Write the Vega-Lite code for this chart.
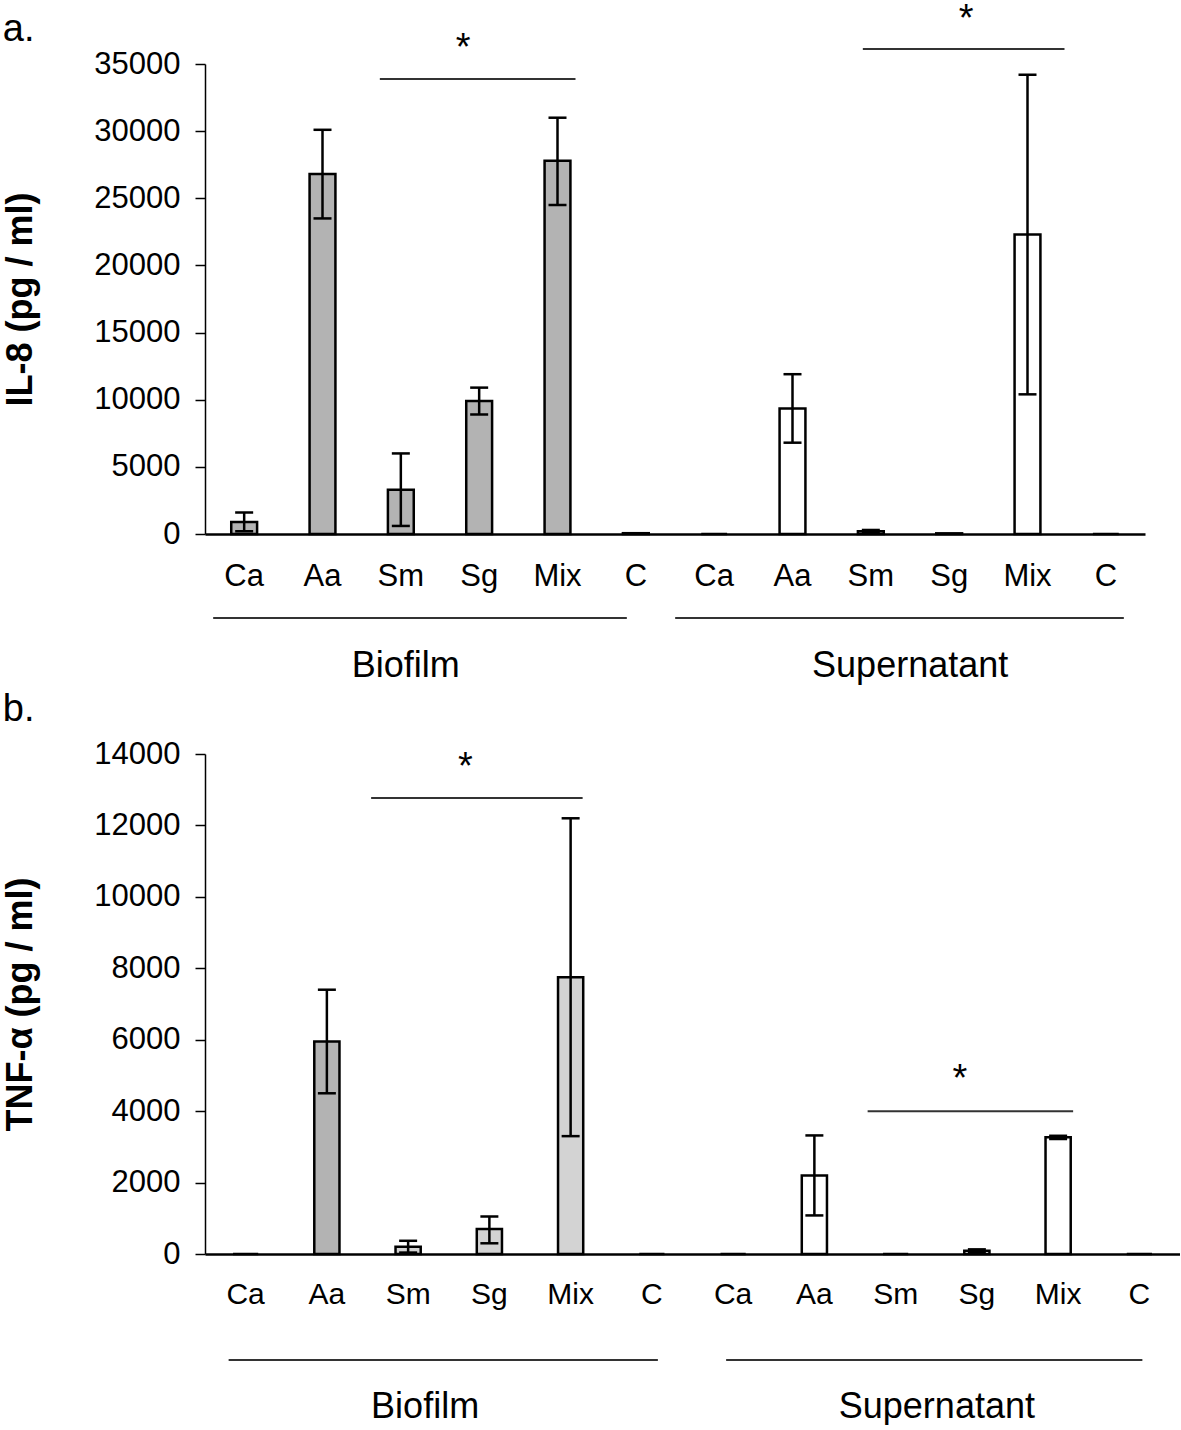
{
  "$schema": "https://vega.github.io/schema/vega-lite/v6.json",
  "padding": {"left": 2, "top": 0, "right": 0, "bottom": 0},
  "background": "white",
  "spacing": 6,
  "config": {
    "view": {"stroke": null},
    "font": "Liberation Sans",
    "axis": {"grid": false, "labelColor": "black", "titleColor": "black", "domainColor": "black", "tickColor": "black", "labelFont": "Liberation Sans", "titleFont": "Liberation Sans"},
    "title": {"font": "Liberation Sans", "color": "black", "fontWeight": "normal", "fontSize": 38, "anchor": "start", "frame": "bounds"}
  },
  "vconcat": [
    {
      "title": {"text": "a.", "offset": -48},
      "width": 940,
      "height": 470,
      "data": {"values": [
        {"group": "Biofilm", "cat": "Ca", "key": "Biofilm|Ca", "value": 900, "lo": 200, "hi": 1600},
        {"group": "Biofilm", "cat": "Aa", "key": "Biofilm|Aa", "value": 26800, "lo": 23500, "hi": 30100},
        {"group": "Biofilm", "cat": "Sm", "key": "Biofilm|Sm", "value": 3300, "lo": 600, "hi": 6000},
        {"group": "Biofilm", "cat": "Sg", "key": "Biofilm|Sg", "value": 9900, "lo": 8900, "hi": 10900},
        {"group": "Biofilm", "cat": "Mix", "key": "Biofilm|Mix", "value": 27800, "lo": 24500, "hi": 31000},
        {"group": "Biofilm", "cat": "C", "key": "Biofilm|C", "value": 60, "lo": null, "hi": null},
        {"group": "Supernatant", "cat": "Ca", "key": "Supernatant|Ca", "value": 0, "lo": null, "hi": null},
        {"group": "Supernatant", "cat": "Aa", "key": "Supernatant|Aa", "value": 9350, "lo": 6800, "hi": 11900},
        {"group": "Supernatant", "cat": "Sm", "key": "Supernatant|Sm", "value": 200, "lo": 100, "hi": 300},
        {"group": "Supernatant", "cat": "Sg", "key": "Supernatant|Sg", "value": 50, "lo": null, "hi": null},
        {"group": "Supernatant", "cat": "Mix", "key": "Supernatant|Mix", "value": 22300, "lo": 10400, "hi": 34200},
        {"group": "Supernatant", "cat": "C", "key": "Supernatant|C", "value": 0, "lo": null, "hi": null}
      ]},
      "layer": [
        {
          "mark": {"type": "bar", "width": {"band": 0.33}, "stroke": "black", "strokeWidth": 2.5},
          "encoding": {
            "x": {"field": "key", "type": "nominal", "sort": null,
              "scale": {"domain": ["Biofilm|Ca","Biofilm|Aa","Biofilm|Sm","Biofilm|Sg","Biofilm|Mix","Biofilm|C","Supernatant|Ca","Supernatant|Aa","Supernatant|Sm","Supernatant|Sg","Supernatant|Mix","Supernatant|C"], "paddingInner": 0, "paddingOuter": 0},
              "axis": {"title": null, "labelExpr": "split(datum.label, '|')[1]", "labelAngle": 0, "labelFontSize": 31, "ticks": false, "labelPadding": 27, "domainWidth": 2.5}},
            "y": {"field": "value", "type": "quantitative",
              "scale": {"domain": [0, 35000], "nice": false},
              "axis": {"title": "IL-8 (pg / ml)", "titleFontSize": 36, "titleFontWeight": "bold", "titlePadding": 54, "values": [0,5000,10000,15000,20000,25000,30000,35000], "format": "d", "labelFontSize": 31, "tickSize": 10, "labelPadding": 15, "domainWidth": 1.5, "tickWidth": 1.5}},
            "fill": {"condition": {"test": "datum.group === 'Biofilm'", "value": "#b3b3b3"}, "value": "white"}
          }
        },
        {
          "mark": {"type": "rule", "strokeWidth": 2.5, "color": "black"},
          "encoding": {
            "x": {"field": "key", "type": "nominal", "sort": null},
            "y": {"field": "lo", "type": "quantitative"},
            "y2": {"field": "hi"}
          }
        },
        {
          "mark": {"type": "tick", "size": 18, "thickness": 2.5, "color": "black", "orient": "horizontal", "opacity": 1},
          "encoding": {"x": {"field": "key", "type": "nominal", "sort": null}, "y": {"field": "lo", "type": "quantitative"}}
        },
        {
          "mark": {"type": "tick", "size": 18, "thickness": 2.5, "color": "black", "orient": "horizontal", "opacity": 1},
          "encoding": {"x": {"field": "key", "type": "nominal", "sort": null}, "y": {"field": "hi", "type": "quantitative"}}
        },
        {
          "data": {"values": [{}]},
          "mark": {"type": "rule", "strokeWidth": 2, "color": "#333333", "xOffset": -21, "x2Offset": 18},
          "encoding": {"x": {"datum": "Biofilm|Sm"}, "x2": {"datum": "Biofilm|Mix"}, "y": {"datum": 33880}}
        },
        {
          "data": {"values": [{}]},
          "mark": {"type": "text", "text": "*", "fontSize": 38, "baseline": "alphabetic", "align": "center", "xOffset": -16},
          "encoding": {"x": {"datum": "Biofilm|Sg"}, "y": {"datum": 35300}}
        },
        {
          "data": {"values": [{}]},
          "mark": {"type": "rule", "strokeWidth": 2, "color": "#333333", "xOffset": -8, "x2Offset": 37},
          "encoding": {"x": {"datum": "Supernatant|Sm"}, "x2": {"datum": "Supernatant|Mix"}, "y": {"datum": 36110}}
        },
        {
          "data": {"values": [{}]},
          "mark": {"type": "text", "text": "*", "fontSize": 38, "baseline": "alphabetic", "align": "center", "xOffset": 17},
          "encoding": {"x": {"datum": "Supernatant|Sg"}, "y": {"datum": 37460}}
        },
        {
          "data": {"values": [{}]},
          "mark": {"type": "rule", "strokeWidth": 2, "color": "#333333", "xOffset": -31, "x2Offset": -9},
          "encoding": {"x": {"datum": "Biofilm|Ca"}, "x2": {"datum": "Biofilm|C"}, "y": {"datum": -6250}}
        },
        {
          "data": {"values": [{}]},
          "mark": {"type": "rule", "strokeWidth": 2, "color": "#333333", "xOffset": -39, "x2Offset": 18},
          "encoding": {"x": {"datum": "Supernatant|Ca"}, "x2": {"datum": "Supernatant|C"}, "y": {"datum": -6250}}
        },
        {
          "data": {"values": [{}]},
          "mark": {"type": "text", "text": "Biofilm", "fontSize": 36, "baseline": "middle", "align": "center", "xOffset": 5},
          "encoding": {"x": {"datum": "Biofilm|Sm"}, "y": {"datum": -9830}}
        },
        {
          "data": {"values": [{}]},
          "mark": {"type": "text", "text": "Supernatant", "fontSize": 36, "baseline": "middle", "align": "center", "xOffset": -39},
          "encoding": {"x": {"datum": "Supernatant|Sg"}, "y": {"datum": -9830}}
        }
      ]
    },
    {
      "title": {"text": "b.", "offset": 9},
      "width": 975,
      "height": 500,
      "data": {"values": [
        {"group": "Biofilm", "cat": "Ca", "key": "Biofilm|Ca", "value": 0, "lo": null, "hi": null},
        {"group": "Biofilm", "cat": "Aa", "key": "Biofilm|Aa", "value": 5950, "lo": 4500, "hi": 7400},
        {"group": "Biofilm", "cat": "Sm", "key": "Biofilm|Sm", "value": 200, "lo": 40, "hi": 370},
        {"group": "Biofilm", "cat": "Sg", "key": "Biofilm|Sg", "value": 700, "lo": 300, "hi": 1050},
        {"group": "Biofilm", "cat": "Mix", "key": "Biofilm|Mix", "value": 7750, "lo": 3300, "hi": 12200},
        {"group": "Biofilm", "cat": "C", "key": "Biofilm|C", "value": 0, "lo": null, "hi": null},
        {"group": "Supernatant", "cat": "Ca", "key": "Supernatant|Ca", "value": 0, "lo": null, "hi": null},
        {"group": "Supernatant", "cat": "Aa", "key": "Supernatant|Aa", "value": 2200, "lo": 1080, "hi": 3320},
        {"group": "Supernatant", "cat": "Sm", "key": "Supernatant|Sm", "value": 0, "lo": null, "hi": null},
        {"group": "Supernatant", "cat": "Sg", "key": "Supernatant|Sg", "value": 90, "lo": 50, "hi": 130},
        {"group": "Supernatant", "cat": "Mix", "key": "Supernatant|Mix", "value": 3270, "lo": 3220, "hi": 3310},
        {"group": "Supernatant", "cat": "C", "key": "Supernatant|C", "value": 0, "lo": null, "hi": null}
      ]},
      "layer": [
        {
          "mark": {"type": "bar", "width": {"band": 0.31}, "stroke": "black", "strokeWidth": 2.5},
          "encoding": {
            "x": {"field": "key", "type": "nominal", "sort": null,
              "scale": {"domain": ["Biofilm|Ca","Biofilm|Aa","Biofilm|Sm","Biofilm|Sg","Biofilm|Mix","Biofilm|C","Supernatant|Ca","Supernatant|Aa","Supernatant|Sm","Supernatant|Sg","Supernatant|Mix","Supernatant|C"], "paddingInner": 0, "paddingOuter": 0},
              "axis": {"title": null, "labelExpr": "split(datum.label, '|')[1]", "labelAngle": 0, "labelFontSize": 30, "ticks": false, "labelPadding": 25, "domainWidth": 2.5}},
            "y": {"field": "value", "type": "quantitative",
              "scale": {"domain": [0, 14000], "nice": false},
              "axis": {"title": "TNF-α (pg / ml)", "titleFontSize": 36, "titleFontWeight": "bold", "titlePadding": 54, "values": [0,2000,4000,6000,8000,10000,12000,14000], "format": "d", "labelFontSize": 31, "tickSize": 10, "labelPadding": 15, "domainWidth": 1.5, "tickWidth": 1.5}},
            "fill": {"condition": [
              {"test": "datum.group === 'Biofilm' && datum.cat === 'Aa'", "value": "#b3b3b3"},
              {"test": "datum.group === 'Biofilm'", "value": "#d3d3d3"}
            ], "value": "white"}
          }
        },
        {
          "mark": {"type": "rule", "strokeWidth": 2.5, "color": "black"},
          "encoding": {
            "x": {"field": "key", "type": "nominal", "sort": null},
            "y": {"field": "lo", "type": "quantitative"},
            "y2": {"field": "hi"}
          }
        },
        {
          "mark": {"type": "tick", "size": 18, "thickness": 2.5, "color": "black", "orient": "horizontal", "opacity": 1},
          "encoding": {"x": {"field": "key", "type": "nominal", "sort": null}, "y": {"field": "lo", "type": "quantitative"}}
        },
        {
          "mark": {"type": "tick", "size": 18, "thickness": 2.5, "color": "black", "orient": "horizontal", "opacity": 1},
          "encoding": {"x": {"field": "key", "type": "nominal", "sort": null}, "y": {"field": "hi", "type": "quantitative"}}
        },
        {
          "data": {"values": [{}]},
          "mark": {"type": "rule", "strokeWidth": 2, "color": "#333333", "xOffset": -37, "x2Offset": 12},
          "encoding": {"x": {"datum": "Biofilm|Sm"}, "x2": {"datum": "Biofilm|Mix"}, "y": {"datum": 12770}}
        },
        {
          "data": {"values": [{}]},
          "mark": {"type": "text", "text": "*", "fontSize": 38, "baseline": "alphabetic", "align": "center", "xOffset": -24},
          "encoding": {"x": {"datum": "Biofilm|Sg"}, "y": {"datum": 13300}}
        },
        {
          "data": {"values": [{}]},
          "mark": {"type": "rule", "strokeWidth": 2, "color": "#333333", "xOffset": -28, "x2Offset": 15},
          "encoding": {"x": {"datum": "Supernatant|Sm"}, "x2": {"datum": "Supernatant|Mix"}, "y": {"datum": 4000}}
        },
        {
          "data": {"values": [{}]},
          "mark": {"type": "text", "text": "*", "fontSize": 38, "baseline": "alphabetic", "align": "center", "xOffset": -17},
          "encoding": {"x": {"datum": "Supernatant|Sg"}, "y": {"datum": 4565}}
        },
        {
          "data": {"values": [{}]},
          "mark": {"type": "rule", "strokeWidth": 2, "color": "#333333", "xOffset": -17, "x2Offset": 6},
          "encoding": {"x": {"datum": "Biofilm|Ca"}, "x2": {"datum": "Biofilm|C"}, "y": {"datum": -2968}}
        },
        {
          "data": {"values": [{}]},
          "mark": {"type": "rule", "strokeWidth": 2, "color": "#333333", "xOffset": -7, "x2Offset": 3},
          "encoding": {"x": {"datum": "Supernatant|Ca"}, "x2": {"datum": "Supernatant|C"}, "y": {"datum": -2968}}
        },
        {
          "data": {"values": [{}]},
          "mark": {"type": "text", "text": "Biofilm", "fontSize": 36, "baseline": "middle", "align": "center", "xOffset": 17},
          "encoding": {"x": {"datum": "Biofilm|Sm"}, "y": {"datum": -4284}}
        },
        {
          "data": {"values": [{}]},
          "mark": {"type": "text", "text": "Supernatant", "fontSize": 36, "baseline": "middle", "align": "center", "xOffset": -40},
          "encoding": {"x": {"datum": "Supernatant|Sg"}, "y": {"datum": -4284}}
        }
      ]
    }
  ]
}
